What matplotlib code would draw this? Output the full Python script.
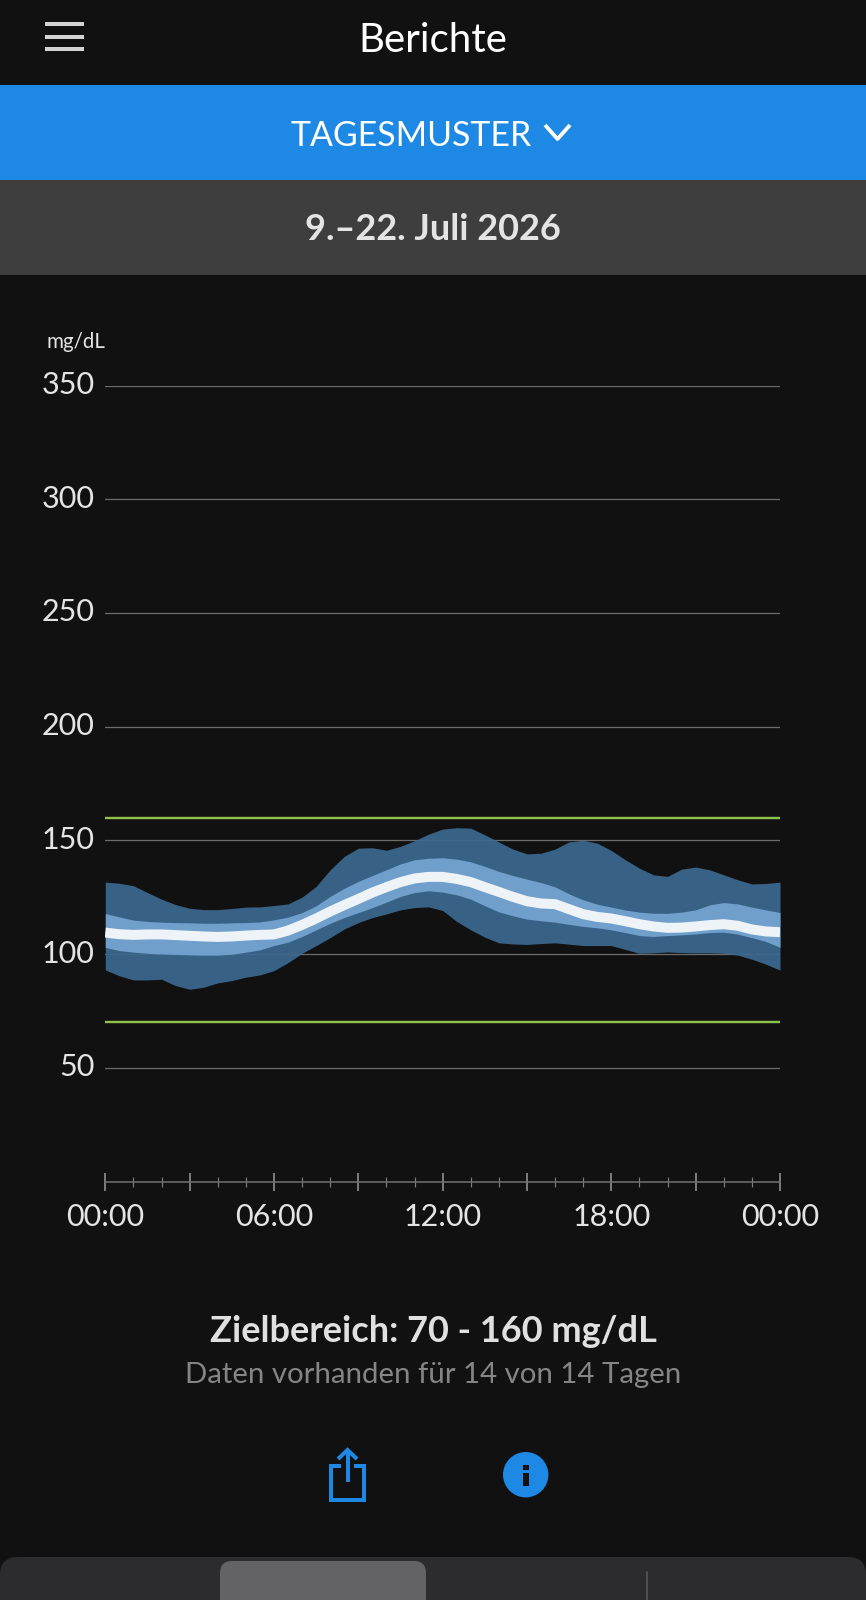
import matplotlib
matplotlib.use("Agg")
import matplotlib.pyplot as plt
from matplotlib.patches import Circle, FancyBboxPatch, Rectangle
from matplotlib.transforms import ScaledTranslation

plt.rcParams["font.family"] = ["Lato", "DejaVu Sans"]

# half-hourly glucose bands (mg/dL)
hours = [i / 2 for i in range(49)]
p95 = [131.7, 131.2, 130.1, 127.1, 124.2, 121.8, 120.2, 119.6, 119.6, 120.1, 120.7, 120.8, 121.4,
       122.1, 125.1, 129.8, 137.1, 143.0, 146.6, 146.8, 145.7, 147.4, 149.9, 152.8,
       155.0, 155.6, 155.4, 152.5, 149.3, 146.2, 144.1, 144.4, 146.2, 149.4, 150.1, 148.8,
       145.6, 141.5, 137.8, 134.9, 134.2, 137.4, 138.3, 137.1, 134.9, 132.7, 130.9, 131.1, 131.7]
p75 = [117.9, 116.4, 115.0, 114.4, 114.1, 113.9, 113.8, 113.6, 113.6, 113.8, 113.9, 114.2, 115.1,
       116.3, 118.3, 121.3, 125.4, 129.0, 132.0, 134.6, 137.1, 139.7, 141.5, 142.2,
       142.4, 141.8, 140.6, 138.6, 136.4, 134.6, 133.0, 131.5, 129.6, 126.5, 123.9, 122.0,
       120.7, 119.4, 118.5, 118.0, 118.0, 118.5, 119.5, 121.7, 122.7, 122.1, 120.7, 119.5, 118.3]
median = [109.5, 108.8, 108.5, 108.7, 108.7, 108.4, 108.1, 107.8, 107.6, 107.8, 108.2, 108.5, 108.7,
          110.4, 112.9, 115.7, 118.8, 121.6, 124.3, 127.1, 129.5, 131.7, 133.3, 134.0,
          134.0, 133.1, 131.7, 129.5, 127.4, 125.2, 123.3, 122.3, 122.0, 119.8, 117.6, 116.4,
          115.7, 114.5, 113.2, 112.2, 111.6, 111.7, 112.2, 112.8, 113.2, 112.5, 110.9, 110.0, 109.7]
p25 = [103.0, 101.6, 100.9, 100.4, 100.1, 99.9, 99.7, 99.6, 99.6, 100.0, 100.9, 101.9, 103.8,
       105.3, 107.8, 110.7, 113.6, 116.1, 118.3, 120.5, 122.9, 125.4, 127.1, 127.9,
       127.3, 126.1, 124.2, 121.3, 118.6, 116.9, 115.4, 114.7, 114.1, 113.1, 112.2, 111.6,
       110.7, 109.5, 108.2, 107.8, 108.2, 108.5, 108.9, 109.5, 109.7, 108.8, 107.3, 105.6, 103.0]
p5 = [93.1, 90.5, 88.7, 88.7, 89.0, 86.2, 84.6, 85.5, 87.4, 88.4, 89.9, 90.9, 92.8,
      96.3, 100.4, 103.8, 107.3, 111.1, 113.9, 116.1, 117.7, 119.5, 120.5, 120.8,
      119.2, 114.4, 110.7, 107.5, 105.0, 104.5, 104.3, 104.7, 105.0, 104.4, 103.8, 103.8,
      103.8, 102.1, 100.4, 100.6, 101.0, 100.7, 100.6, 100.6, 100.4, 99.6, 97.8, 95.6, 93.0]

target_low, target_high = 70, 160
y_ticks = [50, 100, 150, 200, 250, 300, 350]
major_hours = [0, 3, 6, 9, 12, 15, 18, 21, 24]
x_labels = ["00:00", "", "06:00", "", "12:00", "", "18:00", "", "00:00"]
minor_hours = [h for h in range(25) if h % 3]

W, H = 866, 1600
BG = "#111111"
BLUE = "#1e88e5"
px = 0.72  # one pixel in points at dpi 100

fig = plt.figure(figsize=(W / 100, H / 100), dpi=100, facecolor=BG)

# app chrome, drawn in pixel coordinates
ui = fig.add_axes([0, 0, 1, 1])
ui.set_xlim(0, W)
ui.set_ylim(H, 0)
ui.axis("off")

ui.add_patch(Rectangle((0, 84.5), W, 95, color=BLUE, lw=0))
ui.add_patch(Rectangle((0, 180), W, 94.5, color="#3e3e3e", lw=0))
for y in [24, 36.5, 49]:
    ui.add_patch(Rectangle((45, y - 2), 39, 4, color="#d4d4d4", lw=0))

ui.text(433, 40, "Berichte", color="white", fontsize=29, ha="center", va="center")
ui.text(411, 135.5, "TAGESMUSTER", color="white", fontsize=24.4, ha="center", va="center")
ui.plot([545, 557.5, 570], [125, 139, 125], color="white", lw=3.8 * px, solid_capstyle="butt")
ui.text(433, 230, "9.–22. Juli 2026", color="#e4e4e4", fontsize=26, fontweight="bold",
        ha="center", va="center")
ui.text(46, 342, "mg/dL", color="#e4e4e4", fontsize=14.8, ha="left", va="center")

ui.text(433, 1332, "Zielbereich: 70 - 160 mg/dL", color="#e0e0e0", fontsize=26, fontweight="bold",
        ha="center", va="center")
ui.text(433, 1375, "Daten vorhanden für 14 von 14 Tagen", color="#858585", fontsize=21.2,
        ha="center", va="center")

# share icon
ui.plot([341, 331, 331, 364, 364, 354], [1466, 1466, 1500, 1500, 1466, 1466], color=BLUE,
        lw=4 * px, solid_joinstyle="miter", solid_capstyle="butt")
ui.plot([347.5, 347.5], [1452, 1482], color=BLUE, lw=4 * px, solid_capstyle="butt")
ui.plot([338, 347.5, 357], [1459, 1450, 1459], color=BLUE, lw=4 * px, solid_capstyle="butt",
        solid_joinstyle="miter")

# info icon
ui.add_patch(Circle((525.7, 1474.7), 22.7, color=BLUE, lw=0))
ui.add_patch(Rectangle((522.7, 1465), 6, 5, color=BG, lw=0))
ui.add_patch(Rectangle((522.7, 1473), 6, 13, color=BG, lw=0))

# bottom tab bar
ui.add_patch(FancyBboxPatch((0, 1557), W, 80, boxstyle="round,pad=0,rounding_size=18",
                            fc="#2c2c2e", ec="none"))
ui.add_patch(FancyBboxPatch((220, 1561), 206, 80, boxstyle="round,pad=0,rounding_size=12",
                            fc="#636366", ec="none"))
ui.plot([647, 647], [1572, 1600], color="#5a5a5c", lw=1.5 * px)

# chart, x from 105.3 to 780 px, y 0 at 1181.7 px and 350 at 385.5 px
ax = fig.add_axes([105.3 / W, 1 - 1181.7 / H, (780 - 105.3) / W, (1181.7 - 385.5) / H])
ax.set_facecolor("none")
ax.set_xlim(0, 24)
ax.set_ylim(0, 350)

ax.set_yticks(y_ticks, [str(v) for v in y_ticks])
ax.grid(axis="y", color="#6c6c6c", lw=1.25 * px, zorder=1)
ax.set_axisbelow(True)
ax.tick_params(axis="y", length=0, pad=7.5, labelsize=22, labelcolor="#e4e4e4")
# lift the y labels a little, the reference sits above the gridline
lift = ScaledTranslation(0, 3 / 100, fig.dpi_scale_trans)
for label in ax.get_yticklabels():
    label.set_transform(label.get_transform() + lift)

ax.set_xticks(major_hours, x_labels)
ax.set_xticks(minor_hours, minor=True)
ax.tick_params(axis="x", which="major", direction="inout", length=18 * px, width=2 * px,
               color="#7a7a7a", pad=9, labelsize=22, labelcolor="#e4e4e4")
ax.tick_params(axis="x", which="minor", direction="inout", length=10 * px, width=1.2 * px,
               color="#7a7a7a")

for side in ["top", "left", "right"]:
    ax.spines[side].set_visible(False)
ax.spines["bottom"].set_color("#6e6e6e")
ax.spines["bottom"].set_linewidth(1.6 * px)

ax.fill_between(hours, p5, p95, color="#3c6890", alpha=0.93, lw=0, zorder=2)
ax.fill_between(hours, p25, p75, color="#6f9fca", lw=0, zorder=3)
ax.plot(hours, median, color="#eef3f8", lw=10 * px, solid_capstyle="butt", zorder=4)
for level in [target_low, target_high]:
    ax.axhline(level, color="#8fc24c", lw=2.4 * px, zorder=5)

fig.savefig("out.png", dpi=100, facecolor=BG)
